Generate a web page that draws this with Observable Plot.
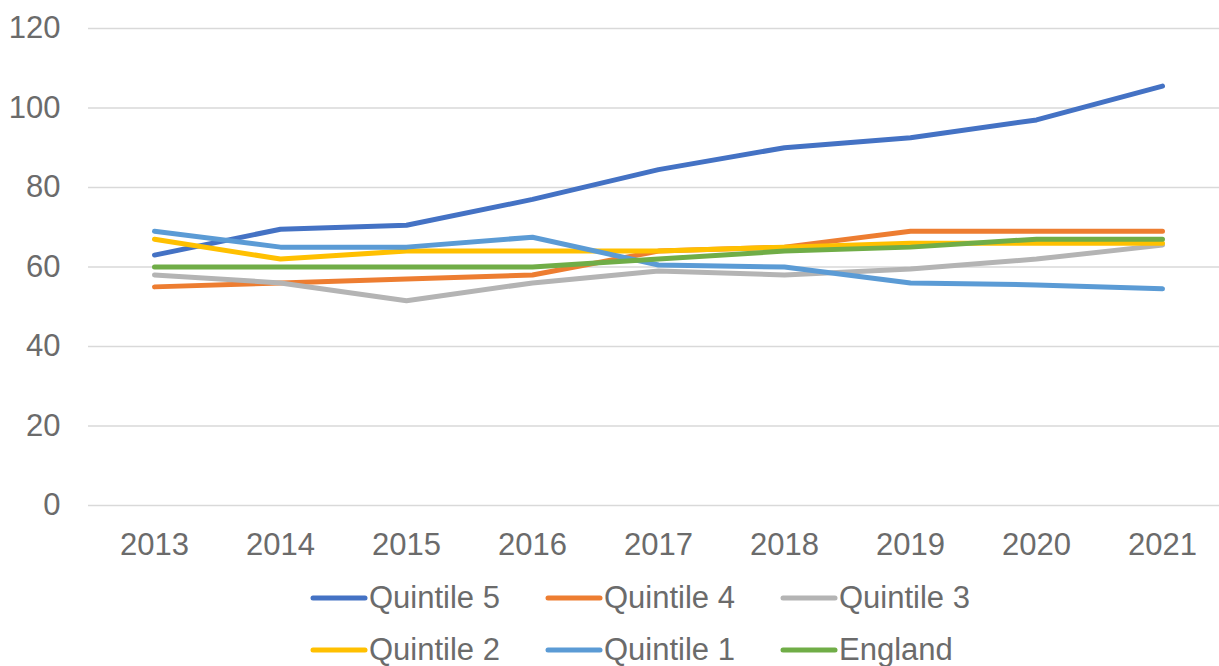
<!DOCTYPE html>
<html>
<head>
<meta charset="utf-8">
<script src="https://cdn.jsdelivr.net/npm/d3@7"></script>
<script src="https://cdn.jsdelivr.net/npm/@observablehq/plot@0.6"></script>
<style>
  html, body { margin: 0; padding: 0; background: #fff; overflow: hidden; }
  body { width: 1219px; height: 666px; font-family: "Liberation Sans", Arial, sans-serif; }
  #legend { display: grid; grid-template-columns: 235px 235px auto; grid-auto-rows: 52px; padding-left: 310px; color: #6b6b6b; font-size: 31px; }
  .item { display: flex; align-items: center; }
  .item svg { flex: none; }
</style>
</head>
<body>
<div id="chart"></div>
<div id="legend"></div>
<script>
const years = [2013, 2014, 2015, 2016, 2017, 2018, 2019, 2020, 2021];
const seriesNames = ["Quintile 5", "Quintile 4", "Quintile 3", "Quintile 2", "Quintile 1", "England"];
const seriesColors = ["#4472C4", "#ED7D31", "#B4B4B4", "#FFC000", "#5B9BD5", "#70AD47"];
const quintile5 = [63, 69.5, 70.5, 77, 84.5, 90, 92.5, 97, 105.5];
const quintile4 = [55, 56, 57, 58, 64, 65, 69, 69, 69];
const quintile3 = [58, 56, 51.5, 56, 59, 58, 59.5, 62, 65.5];
const quintile2 = [67, 62, 64, 64, 64, 65, 66, 66, 66];
const quintile1 = [69, 65, 65, 67.5, 60.5, 60, 56, 55.5, 54.5];
const england = [60, 60, 60, 60, 62, 64, 65, 67, 67];
const yTicks = [0, 20, 40, 60, 80, 100, 120];

const seriesValues = [quintile5, quintile4, quintile3, quintile2, quintile1, england];
const rows = [];
seriesNames.forEach((name, i) => {
  years.forEach((yr, j) => rows.push({series: name, year: yr, value: seriesValues[i][j]}));
});

const chart = Plot.plot({
  width: 1219,
  height: 572,
  marginTop: 28,
  marginBottom: 67,
  marginLeft: 88,
  marginRight: 0,
  style: { fontFamily: '"Liberation Sans", Arial, sans-serif', fontSize: "31px", color: "#6b6b6b", background: "#fff" },
  x: { type: "point", domain: years, range: [152, 1163], padding: 0, label: null },
  y: { domain: [0, 120], ticks: yTicks, label: null },
  color: { domain: seriesNames, range: seriesColors },
  marks: [
    Plot.ruleY(yTicks, { stroke: "#D9D9D9", strokeWidth: 1.5 }),
    Plot.axisY({ ticks: yTicks, tickSize: 0, tickPadding: 28, fill: "#6b6b6b", fontSize: 31, label: null }),
    Plot.axisX({ tickSize: 0, tickPadding: 27, fill: "#6b6b6b", fontSize: 31, label: null, tickFormat: d => String(d) }),
    Plot.line(rows, { x: "year", y: "value", z: "series", stroke: "series", strokeWidth: 5, strokeLinecap: "round", strokeLinejoin: "round" })
  ]
});
document.getElementById("chart").appendChild(chart);

const legend = document.getElementById("legend");
seriesNames.forEach((name, i) => {
  const item = document.createElement("div");
  item.className = "item";
  item.innerHTML = `<svg width="59" height="10"><line x1="3" y1="5" x2="55" y2="5" stroke="${seriesColors[i]}" stroke-width="5" stroke-linecap="round"/></svg><span>${name}</span>`;
  legend.appendChild(item);
});
</script>
</body>
</html>
